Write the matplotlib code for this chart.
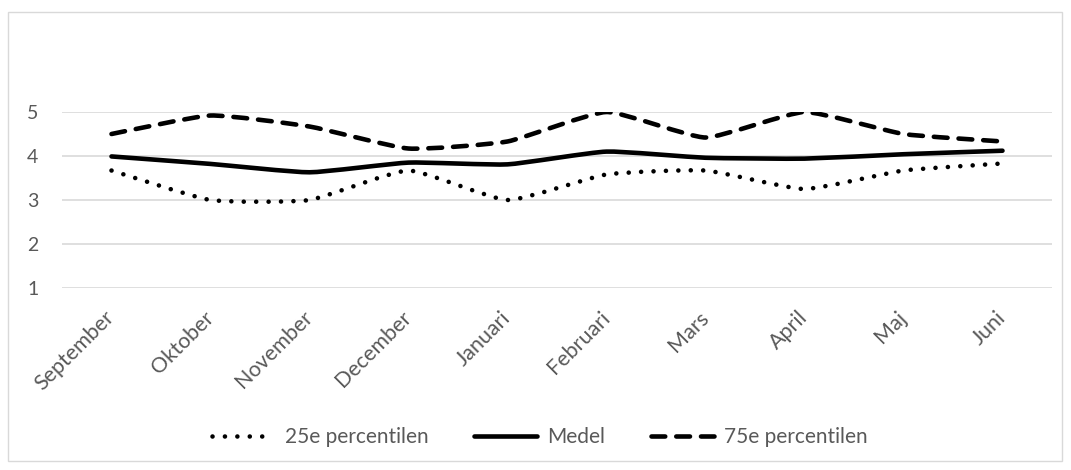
import matplotlib.pyplot as plt
import numpy as np
from matplotlib.path import Path
from matplotlib.patches import PathPatch, Rectangle
from matplotlib.lines import Line2D

plt.rcParams['font.family'] = ['Lato', 'DejaVu Sans']

months = ['September', 'Oktober', 'November', 'December', 'Januari',
          'Februari', 'Mars', 'April', 'Maj', 'Juni']
p25 = [3.67, 3.0, 3.0, 3.67, 3.0, 3.58, 3.67, 3.25, 3.67, 3.83]
medel = [3.99, 3.82, 3.63, 3.85, 3.81, 4.1, 3.96, 3.94, 4.04, 4.12]
p75 = [4.5, 4.92, 4.67, 4.17, 4.33, 5.0, 4.42, 5.0, 4.5, 4.33]

grey = '#595959'


def smooth_path(xs, ys, k=0.08):
    # cubic bezier through the points, light smoothing at the corners
    pts = np.column_stack([xs, ys]).astype(float)
    ext = np.vstack([pts[0], pts, pts[-1]])
    verts = [pts[0]]
    codes = [Path.MOVETO]
    for i in range(1, len(ext) - 2):
        p0, p1, p2, p3 = ext[i - 1], ext[i], ext[i + 1], ext[i + 2]
        verts += [p1 + (p2 - p0) * k, p2 - (p3 - p1) * k, p2]
        codes += [Path.CURVE4] * 3
    return Path(verts, codes)


fig = plt.figure(figsize=(10.71, 4.70), dpi=100)
fig.patches.append(Rectangle((8 / 1071, 1 - 461 / 470), 1054 / 1071, 449 / 470,
                             transform=fig.transFigure, fill=False,
                             edgecolor='#d9d9d9', lw=1))

ax = fig.add_axes([62 / 1071, 1 - 288 / 470, 990 / 1071, 176 / 470])
x = np.arange(len(months))

styles = [
    (p25, '25e percentilen', (0, (0.01, 2.7))),
    (medel, 'Medel', 'solid'),
    (p75, '75e percentilen', (0, (3.0, 2.4))),
]
handles = []
for vals, label, ls in styles:
    patch = PathPatch(smooth_path(x, vals), fill=False, edgecolor='black',
                      lw=3.3, linestyle=ls, capstyle='round', joinstyle='round')
    ax.add_patch(patch)
    handles.append(Line2D([], [], color='black', lw=3.3, linestyle=ls,
                          solid_capstyle='round', dash_capstyle='round',
                          label=label))

ax.set_xlim(-0.5, len(months) - 0.5)
ax.set_ylim(1, 5)
ax.set_yticks([1, 2, 3, 4, 5])
ax.set_xticks(x)
ax.set_xticklabels(months, rotation=45, ha='right', va='center',
                   rotation_mode='anchor')
ax.grid(axis='y', color='#d9d9d9', lw=1.2)
ax.set_axisbelow(True)
for s in ax.spines.values():
    s.set_visible(False)
ax.tick_params(axis='both', length=0, colors=grey, labelsize=14)
ax.tick_params(axis='x', labelsize=15.5, pad=19)
ax.tick_params(axis='y', pad=17)

fig.legend(handles=handles, loc='center', bbox_to_anchor=(0.504, 0.07), ncol=3,
           frameon=False, fontsize=15, handlelength=3.0, columnspacing=2.2,
           handletextpad=0.5, labelcolor=grey)

fig.savefig('out.png', dpi=100)
